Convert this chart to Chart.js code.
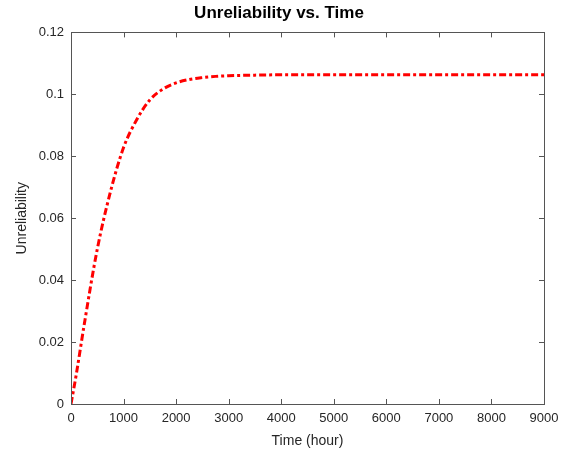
<!DOCTYPE html>
<html>
<head>
<meta charset="utf-8">
<script src="https://cdn.jsdelivr.net/npm/chart.js@4"></script>
<style>
  html, body { margin: 0; padding: 0; background: #fff; }
  #wrap { width: 568px; height: 450px; }
</style>
</head>
<body>
<div id="wrap"><canvas id="myChart" width="568" height="450"></canvas></div>
<script>
'use strict';

// values
let timeHours = [0, 100, 250, 500, 750, 1000, 1250, 1500, 1750, 2000, 2250, 2500, 2750, 3000, 3500, 4000, 5000, 6000, 7000, 8000, 9000];
let unreliability = [0, 0.0095, 0.0255, 0.0500, 0.0685, 0.0828, 0.0918, 0.0982, 0.1017, 0.1037, 0.1048, 0.1054, 0.1058, 0.1060, 0.1062, 0.1063, 0.1063, 0.1063, 0.1063, 0.1063, 0.1063];
let xTicks = [0, 1000, 2000, 3000, 4000, 5000, 6000, 7000, 8000, 9000];
let yTicks = [0, 0.02, 0.04, 0.06, 0.08, 0.1, 0.12];

let points = timeHours.map((t, i) => ({ x: t, y: unreliability[i] }));

// box around the plot + inward tick marks, matlab style
let boxPlugin = {
  id: 'box',
  afterDraw(chart) {
    let ctx = chart.ctx;
    let a = chart.chartArea;
    let xs = chart.scales.x;
    let ys = chart.scales.y;
    ctx.save();
    ctx.strokeStyle = '#555';
    ctx.lineWidth = 1;
    ctx.beginPath();
    xs.ticks.forEach((t, i) => {
      let px = Math.round(xs.getPixelForTick(i)) + 0.5;
      ctx.moveTo(px, a.bottom); ctx.lineTo(px, a.bottom - 5);
      ctx.moveTo(px, a.top); ctx.lineTo(px, a.top + 5);
    });
    ys.ticks.forEach((t, i) => {
      let py = Math.round(ys.getPixelForTick(i)) + 0.5;
      ctx.moveTo(a.left, py); ctx.lineTo(a.left + 5, py);
      ctx.moveTo(a.right, py); ctx.lineTo(a.right - 5, py);
    });
    ctx.stroke();
    ctx.strokeRect(Math.round(a.left) + 0.5, Math.round(a.top) + 0.5, Math.round(a.right - a.left), Math.round(a.bottom - a.top));
    ctx.restore();
  }
};

let ctx = document.getElementById('myChart').getContext('2d');
let myChart = new Chart(ctx, { //eslint-disable-line
  type: 'line',
  data: {
    datasets: [{
      label: 'Unreliability',
      data: points,
      borderColor: '#ff0000',
      borderWidth: 3,
      borderDash: [7, 3, 3, 3],
      pointRadius: 0,
      fill: false,
      cubicInterpolationMode: 'monotone'
    }]
  },
  options: {
    responsive: false,
    animation: false,
    layout: { padding: { left: 14, right: 24, top: 0, bottom: 0 } },
    plugins: {
      legend: { display: false },
      tooltip: { enabled: false },
      title: {
        display: true,
        text: 'Unreliability vs. Time',
        color: '#000',
        font: { family: 'Arial, "Liberation Sans", sans-serif', size: 17, weight: 'bold' },
        padding: { top: 3, bottom: 9 }
      }
    },
    scales: {
      x: {
        type: 'linear',
        min: 0,
        max: 9000,
        afterBuildTicks(scale) { scale.ticks = xTicks.map(v => ({ value: v })); },
        afterFit(scale) { scale.height = 46; },
        grid: { display: false, drawTicks: false },
        border: { display: false },
        ticks: {
          padding: 7,
          maxRotation: 0,
          color: '#262626',
          font: { family: 'Arial, "Liberation Sans", sans-serif', size: 13 },
          callback: v => String(v)
        },
        title: {
          display: true,
          text: 'Time (hour)',
          color: '#262626',
          font: { family: 'Arial, "Liberation Sans", sans-serif', size: 14 },
          padding: { top: 2, bottom: 0 }
        }
      },
      y: {
        min: 0,
        max: 0.12,
        afterBuildTicks(scale) { scale.ticks = yTicks.map(v => ({ value: v })); },
        afterFit(scale) { scale.width = 57; },
        grid: { display: false, drawTicks: false },
        border: { display: false },
        ticks: {
          padding: 7,
          color: '#262626',
          font: { family: 'Arial, "Liberation Sans", sans-serif', size: 13 },
          callback: v => String(+v.toFixed(2))
        },
        title: {
          display: true,
          text: 'Unreliability',
          color: '#262626',
          font: { family: 'Arial, "Liberation Sans", sans-serif', size: 14 },
          padding: { top: 0, bottom: 4 }
        }
      }
    }
  },
  plugins: [boxPlugin]
});
</script>
</body>
</html>
